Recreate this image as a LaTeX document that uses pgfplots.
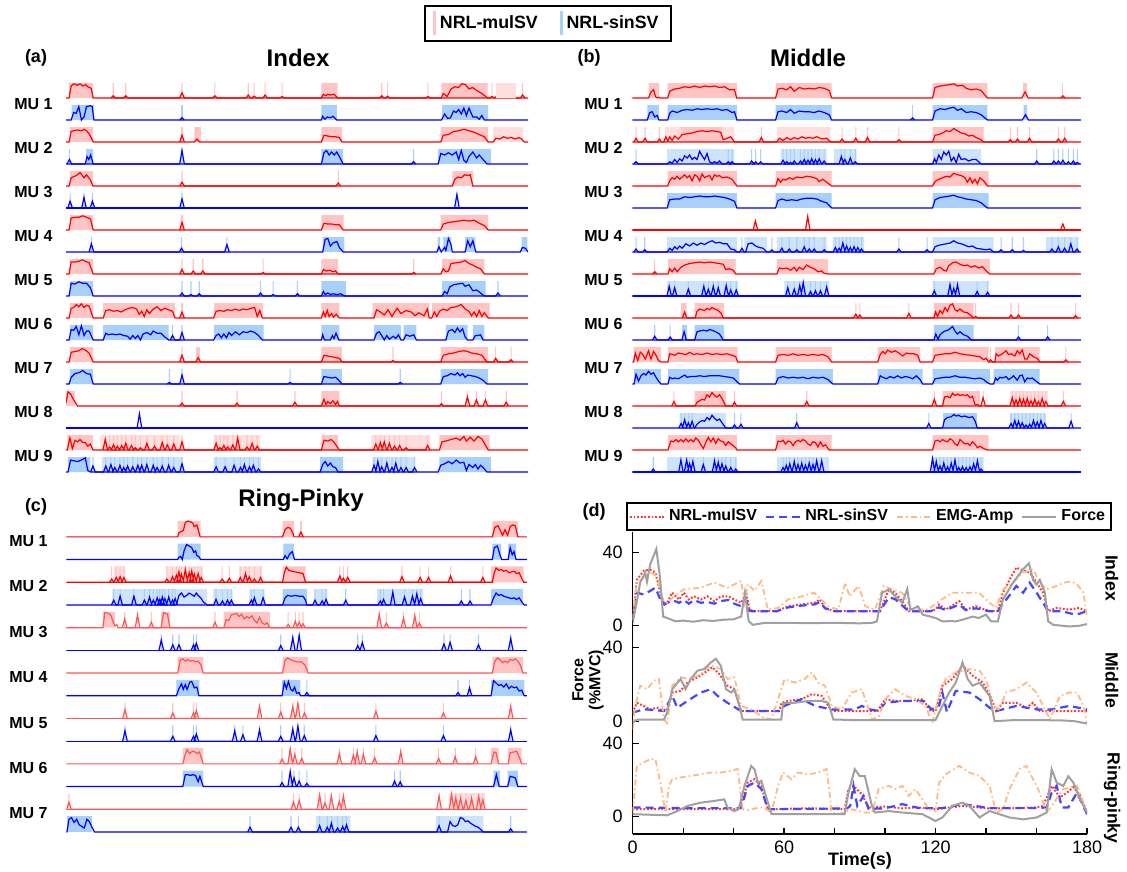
\documentclass[border=0pt]{standalone}
\usepackage{fontspec}
\setmainfont{Liberation Sans}
\usepackage{pgfplots}
\pgfplotsset{compat=1.18}
\definecolor{pk}{RGB}{255,196,196}
\definecolor{pk2}{RGB}{255,222,222}
\definecolor{lb}{RGB}{168,208,250}
\definecolor{lb2}{RGB}{205,228,252}
\definecolor{rr}{RGB}{255,0,0}
\definecolor{rl}{RGB}{255,85,85}
\definecolor{bb}{RGB}{0,0,255}
\pgfplotsset{R/.style={draw=rr,line width=0.6pt},B/.style={draw=bb,line width=0.6pt},RL/.style={draw=rl,line width=0.6pt},
 mul/.style={draw={rgb,255:red,255;green,55;blue,55},line width=1pt,dash pattern=on 0.9pt off 0.9pt},
 sin/.style={draw={rgb,255:red,70;green,70;blue,255},line width=1.1pt,dash pattern=on 4pt off 2.5pt},
 emg/.style={draw={rgb,255:red,255;green,185;blue,130},line width=0.9pt,dash pattern=on 3pt off 1.5pt on 0.8pt off 1.5pt},
 frc/.style={draw={rgb,255:red,160;green,160;blue,160},line width=1pt}}
\newcommand\fs[1]{\fontsize{#1}{#1}\selectfont}
\def\amp{0.68}
% bands a/b
\newcommand\SH[3]{\pgfmathsetmacro\yo{-#2}\pgfmathsetmacro\yi{\amp-#2}\gdef\bc{}%
 \foreach \a/\b in {#3}{\xdef\bc{\bc(\a,\yo)(\a,\yi)(\b,\yi)(\b,\yo)}}%
 \edef\tmp{\noexpand\addplot[fill=#1,draw=none] coordinates {\bc};}\tmp}
% peaks t/h with light spikes
\newcommand\PKS[4]{\pgfmathsetmacro\yo{-#3}\pgfmathsetmacro\yi{\amp-#3}\gdef\bc{}\gdef\bd{}%
 \foreach \a/\b in {#4}{\pgfmathsetmacro\l{\a-0.9}\pgfmathsetmacro\r{\a+0.9}\pgfmathsetmacro\ll{\a-0.22}\pgfmathsetmacro\rr{\a+0.22}\pgfmathsetmacro\yy{\amp*\b-#3}%
 \xdef\bc{\bc(\l,\yo)(\a,\yy)(\r,\yo)}\xdef\bd{\bd(\ll,\yo)(\ll,\yi)(\rr,\yi)(\rr,\yo)}}%
 \edef\tmp{\noexpand\addplot[fill=#2,draw=none] coordinates {\bd};\noexpand\addplot[#1] coordinates {\bc};}\tmp}
% line t/h
\newcommand\LN[3]{\gdef\bc{}\foreach \a/\b in {#3}{\pgfmathsetmacro\yy{\amp*\b-#2}\xdef\bc{\bc(\a,\yy)}}%
 \edef\tmp{\noexpand\addplot[#1] coordinates {\bc};}\tmp}
% force panel line t/v with offset
\newcommand\FL[3]{\gdef\bc{}\foreach \a/\b in {#3}{\pgfmathsetmacro\yy{\b+#2}\xdef\bc{\bc(\a,\yy)}}%
 \edef\tmp{\noexpand\addplot[#1] coordinates {\bc};}\tmp}
\begin{document}
\begin{tikzpicture}
\path[use as bounding box] (0pt,0pt) rectangle (563.5pt,-435.5pt);
%================ (a) Index
\def\amp{0.68}
\begin{axis}[at={(33pt,-238.2pt)},anchor=south west,x=1.28333pt,y=11pt,xmin=0,xmax=180,ymin=-17.2,ymax=0.8,hide axis,
 legend style={at={(axis description cs:1.043,1.1437)},anchor=center,draw=black,line width=0.9pt,font=\bfseries\fs{8.9},legend columns=2,inner xsep=4pt,inner ysep=2pt,/tikz/every even column/.append style={column sep=9pt}},
 legend image code/.code={\draw[#1,line width=1.4pt] (0.25em,-0.6em)--(0.25em,0.6em);}]
\addlegendimage{draw=pk}\addlegendentry{NRL-mulSV}
\addlegendimage{draw=lb}\addlegendentry{NRL-sinSV}
% MU1
\SH{pk}{0}{1.2/10.6, 99.5/105.8, 146.2/164.3}
\PKS{R}{pk}{0}{18.4/0.15, 23.3/0.15, 45.2/0.35, 58/0.15, 71/0.2, 73.3/0.12, 77.6/0.2, 84.2/0.1, 123/0.15, 125.3/0.12, 141/0.1, 166/0.1, 177.9/0.2}
\LN{R}{0}{0/0, 1.2/0, 2/0.8, 3/0.95, 4.5/0.85, 5.5/0.95, 6.5/0.8, 7.6/0.9, 8.5/0.75, 9.8/0.65, 10.6/0, 99.5/0, 100.3/0.25, 101.2/0.15, 102/0.25, 103/0.2, 104.5/0.25, 105.8/0, 146.2/0, 147/0.3, 148.5/0.1, 150/0.6, 151.5/0.75, 152.9/0.7, 154.3/0.95, 155.6/0.9, 157/0.6, 158.4/0.7, 160/0.5, 162/0.3, 164.3/0, 167/0, 168.5/0.25, 170.5/0.3, 172.5/0.25, 174.5/0.2, 175.5/0, 180/0}
\SH{pk2}{0}{167.5/175.5}
\SH{lb}{1}{2.2/10.9, 99.5/105.5, 146.5/164.5}
\PKS{B}{lb}{1}{45.2/0.15}
\LN{B}{1}{0/0, 2/0, 3/0.5, 4/0.45, 5/0.9, 6/0, 7/0.2, 8/0.9, 9.5/0.95, 10.2/0.9, 10.9/0, 99.5/0, 100/0.25, 100.8/0.05, 101.8/0.2, 103/0.15, 104/0.25, 105.5/0, 146.3/0, 147.5/0.4, 148.7/0.1, 149.8/0.15, 151/0.6, 152/0.5, 153/0.7, 154/0.4, 155/0.8, 156/0.3, 157/0.8, 158.5/0.2, 160/0.2, 161/0.05, 162/0.3, 163/0, 180/0}
% MU2
\SH{pk}{2}{1.5/10.6, 50/52.5, 99.5/107.5, 146/164.5}
\SH{pk2}{2}{166.5/178}
\PKS{R}{pk}{2}{45.2/0.45}
\LN{R}{2}{0/0, 1.2/0, 2/0.7, 3/0.75, 4.5/0.8, 6/0.75, 7/0.85, 8/0.75, 9/0.55, 10.6/0, 50/0, 51/0.2, 52/0, 99.5/0, 100.5/0.45, 102/0.4, 103.5/0.35, 105/0.35, 106.5/0.3, 107.5/0, 146/0, 147/0.45, 149/0.5, 151/0.7, 153/0.75, 155/0.85, 157/0.75, 159/0.65, 161/0.5, 163/0.35, 164.5/0, 166.5/0, 167.5/0.25, 169/0.2, 170.5/0.35, 172/0.25, 173.5/0.3, 175/0.2, 176.5/0.3, 177.5/0.2, 178.5/0, 180/0}
\SH{lb}{3}{7.8/10.6, 99.5/108, 145/165.5}
\PKS{B}{lb}{3}{1.3/0.3, 45.2/0.9, 135.4/0.15}
\LN{B}{3}{0/0, 7.5/0, 8.2/0.5, 8.9/0.3, 9.6/0.6, 10.6/0, 99.5/0, 100.5/0.75, 101.5/0.9, 102.5/0.6, 103.5/0.8, 104.5/0.6, 105.5/0.8, 106.5/0.5, 108/0, 145/0, 146/0.7, 147.5/0.6, 149/0.75, 150.5/0.6, 152/0.8, 153/0.3, 154/0.9, 155/0.25, 156/0.1, 157/0.5, 158.5/0.8, 160/0.4, 161/0.6, 162.5/0.3, 164/0, 180/0}
% MU3
\SH{pk}{4}{1.5/10.5, 150.5/158.5}
\PKS{R}{pk}{4}{45.2/0.25, 106.1/0.2}
\LN{R}{4}{0/0, 1.2/0, 2/0.55, 4/0.7, 5.5/0.9, 7/0.55, 8/0.75, 9.5/0.4, 10.5/0, 150.5/0, 151.5/0.45, 152.7/0.6, 154/0.55, 155.3/0.75, 156.5/0.7, 157.5/0.75, 158.5/0, 180/0}
\PKS{B}{lb}{5}{1.6/0.45, 7/0.7, 10.3/0.45, 45.2/0.6, 152.3/0.9}
\LN{B}{5}{0/0, 180/0}
% MU4
\SH{pk}{6}{1.5/10.6, 44.7/45.7, 99.5/108.2, 146/164.5}
\PKS{R}{pk}{6}{45.2/0.5}
\LN{R}{6}{0/0, 1.2/0, 2/0.8, 3.5/0.85, 5/0.85, 6.5/0.95, 8/0.85, 9.5/0.75, 10.6/0, 99.5/0, 100.5/0.45, 102/0.4, 103.5/0.4, 105/0.35, 106.5/0.35, 108/0, 146/0, 147/0.4, 149/0.5, 151/0.55, 153/0.6, 155/0.65, 157/0.6, 159/0.65, 161/0.45, 163/0.3, 164.5/0, 180/0}
\SH{lb}{7}{100/108.5, 144.8/145.8, 147/150, 155.5/159.5, 177.5/179.8}
\PKS{B}{lb}{7}{9.9/0.55, 45/0.25, 62.7/0.5}
\LN{B}{7}{0/0, 100/0, 101/0.85, 102/0.9, 103/0.4, 104/0.6, 105.5/0.7, 106.5/0.3, 108/0, 144.5/0, 145.3/0.35, 146.2/0, 147.5/0.3, 148/0.1, 149/0.9, 150/0.5, 150.5/0, 155.5/0, 156.5/0.75, 157.5/0.35, 158.5/0.75, 159.7/0, 177/0, 177.8/0.3, 179/0.25, 180/0}
% MU5
\SH{pk}{8}{1.5/10.6, 99.5/106, 146.5/163}
\PKS{R}{pk}{8}{45.2/0.3, 49.6/0.2, 53.3/0.2, 76.8/0.1, 135.5/0.1}
\LN{R}{8}{0/0, 1.2/0, 2/0.8, 3.5/0.8, 5/0.85, 6.3/0.95, 7.5/0.85, 9/0.75, 10.6/0, 99.5/0, 100.3/0.3, 101.5/0.2, 102.7/0.25, 104/0.15, 105/0.2, 106/0, 146/0, 147/0.35, 148/0.15, 149/0.2, 150/0.7, 152/0.75, 154/0.8, 155.5/0.9, 157/0.7, 158.5/0.6, 160/0.45, 161.5/0.35, 163/0, 180/0}
\SH{lb}{9}{1.5/10.6, 99.5/109, 146.5/163.5}
\PKS{B}{lb}{9}{45.2/0.2, 48.7/0.1, 51.9/0.15, 75.8/0.2, 80.7/0.1, 90.2/0.15, 168.3/0.2}
\LN{B}{9}{0/0, 1.2/0, 2/0.85, 3.5/0.8, 5/0.95, 6.5/0.85, 8/0.85, 9.5/0.55, 10.6/0, 99.5/0, 100.3/0.3, 101/0.1, 102/0.2, 103/0.1, 104/0.15, 105.5/0.1, 107/0.15, 108.5/0, 146.5/0, 147.5/0.3, 148.5/0.15, 149.5/0.6, 151/0.75, 152.5/0.8, 154.5/0.85, 155.5/0.65, 157/0.75, 158.5/0.35, 160/0.4, 161.5/0.2, 163/0, 180/0}
% MU6
\SH{pk}{10}{1.5/10.6, 14.5/42.4, 57.7/76.7, 99.5/106.5, 119.5/141.5, 142.5/165}
\PKS{R}{pk}{10}{45.2/0.4}
\LN{R}{10}{0/0, 1.2/0, 2/0.65, 3/0.7, 4/0.9, 5/0.75, 6/0.95, 7/0.7, 8/0.85, 9/0.8, 10.6/0, 14.5/0, 15.5/0.5, 17/0.55, 18.5/0.45, 20/0.5, 21.5/0.4, 23/0.55, 24.5/0.65, 26/0.7, 27.5/0.6, 28.5/0.25, 29.5/0.45, 30.5/0.1, 31.5/0.55, 32.5/0.3, 34/0.6, 35.5/0.75, 37/0.5, 38.5/0.65, 40/0.55, 41.5/0.45, 42.5/0, 57.5/0, 58.5/0.45, 60/0.5, 61.5/0.45, 63/0.55, 64.5/0.5, 66/0.6, 67.5/0.5, 69/0.6, 70.5/0.55, 72/0.65, 73.5/0.7, 74.5/0.1, 75.5/0.5, 76.5/0, 99.5/0, 100.3/0.4, 101/0.1, 101.8/0.5, 102.5/0.1, 103.5/0.3, 104.2/0.05, 105.3/0.25, 106.5/0, 120/0, 121/0.55, 122.5/0.4, 124/0.2, 125.5/0.55, 127/0.1, 129/0.65, 130.5/0.3, 132.5/0.5, 134.5/0.4, 136/0.15, 137.5/0.35, 139.5/0.15, 140.8/0.6, 141.5/0, 142.5/0, 143.5/0.4, 144.5/0.1, 145.5/0.45, 147/0.6, 148.5/0.5, 150/0.7, 152/0.75, 154/0.9, 155.5/0.6, 157/0.45, 158/0.15, 159/0.4, 160/0.1, 161/0.5, 162/0.1, 163/0.35, 164.5/0, 180/0}
\SH{lb}{11}{1.5/10.6, 14.5/40, 57.7/77, 99.5/106.5, 120/130.5, 131.5/136.5, 148/156.5, 158.5/163}
\PKS{B}{lb}{11}{41.5/0.3, 45.2/0.5}
\LN{B}{11}{0/0, 1.2/0, 2/0.7, 3/0.65, 4/0.9, 5/0.35, 6/0.95, 7/0.3, 8/0.6, 9/0.6, 10.6/0, 14.5/0, 15.5/0.45, 16.5/0.35, 18/0.4, 19.5/0.35, 21/0.4, 22.5/0.3, 24/0.25, 25/0.05, 26/0.3, 27/0.1, 28/0.3, 29/0, 30/0.4, 31.5/0.5, 33/0.35, 34/0.6, 35.5/0.45, 37/0.45, 38.5/0.2, 40/0, 57.5/0, 58.5/0.3, 59.5/0.4, 60.5/0.15, 61.5/0.4, 62.5/0.15, 63.5/0.5, 64.5/0.3, 66/0.55, 67.5/0.35, 69/0.55, 70.5/0.5, 72/0.6, 73.5/0.5, 75/0.3, 76.5/0, 99.5/0, 100/0.35, 100.7/0, 103/0, 103.8/0.3, 104.4/0.1, 105.2/0.45, 106.3/0, 120/0, 121/0.45, 122/0.55, 123/0.3, 124/0, 125/0.3, 126/0.05, 127.5/0.25, 128.5/0.1, 129.5/0.35, 130.5/0, 131.5/0, 132.5/0.35, 134/0.25, 135.5/0.35, 136.5/0, 148/0, 149/0.6, 150.5/0.7, 151.5/0.5, 152.5/0.8, 153.5/0.55, 154.5/0.75, 155.5/0.2, 156.5/0, 158.5/0, 159.5/0.3, 160.5/0.3, 161.5/0.35, 162.5/0, 180/0}
% MU7
\SH{pk}{12}{1.5/10.6, 50.7/52.2, 99.5/107.5, 146/164.5}
\PKS{R}{pk}{12}{45.2/0.45, 127.4/0.1, 167.4/0.25, 173.4/0.15}
\LN{R}{12}{0/0, 1.2/0, 2/0.65, 3.5/0.7, 5/0.75, 6.3/0.9, 7.5/0.8, 9/0.6, 10.6/0, 50.6/0, 51.5/0.3, 52.4/0, 99.5/0, 100.5/0.45, 102/0.4, 103.5/0.35, 105/0.3, 106.5/0.25, 107.5/0, 146/0, 147/0.45, 149/0.55, 151/0.6, 153/0.7, 155/0.75, 156.5/0.7, 158/0.6, 160/0.55, 162/0.45, 164/0, 180/0}
\SH{lb}{13}{1.5/10.6, 99.5/107.5, 146/164.5}
\PKS{B}{lb}{13}{40.3/0.1, 45.2/0.6, 87.3/0.1, 130.2/0.1}
\LN{B}{13}{0/0, 1.2/0, 2/0.45, 3.5/0.7, 5/0.75, 6.5/0.9, 8/0.7, 9.5/0.65, 10.6/0, 99.5/0, 100.5/0.5, 102/0.45, 103.5/0.4, 105/0.45, 106/0.3, 107.5/0, 146/0, 147/0.5, 148.5/0.55, 150/0.7, 151.5/0.6, 152.5/0.75, 153.5/0.55, 154.5/0.7, 155.5/0.45, 156.5/0.6, 158/0.55, 159.5/0.5, 161/0.4, 162.5/0.25, 164/0, 180/0}
% MU8
\SH{pk}{14}{0/3.5, 99.5/106.5}
\PKS{R}{pk}{14}{45.2/0.2, 66.6/0.2, 89.2/0.25, 146.3/0.15, 156.4/0.6, 159.9/0.4, 163.4/0.4, 171.5/0.25}
\LN{R}{14}{0/0.2, 0.8/0.95, 1.8/0.8, 3/0.4, 4.5/0, 99.5/0, 100.5/0.45, 101.3/0.1, 102/0.3, 103/0.15, 104/0.35, 105/0.1, 105.8/0.3, 106.5/0, 180/0}
\PKS{B}{none}{15}{28.6/0.95}
\LN{B}{15}{0/0, 180/0}
% MU9
\SH{pk2}{16}{13.5/44.5, 57.5/75.5, 119/142}
\SH{pk}{16}{0.5/10.6, 99.5/106, 145.5/165}
\PKS{R}{pk}{16}{15.3/0.7, 17/0.2, 18.5/0.35, 20/0.25, 21.7/0.3, 23.3/0.45, 25.5/0.3, 27/0.15, 29/0.15, 31.5/0.45, 34.5/0.25, 37.5/0.5, 39.5/0.35, 42/0.4, 45.2/0.55, 58.5/0.45, 60/0.15, 61.5/0.3, 63/0.2, 65/0.35, 66.9/0.8, 70.5/0.2, 72.5/0.45, 74.5/0.25, 120.7/0.4, 122.5/0.5, 124/0.55, 126/0.45, 128/0.25, 130/0.3, 132.5/0.15, 140.9/0.3}
\LN{R}{16}{0/0, 0.5/0, 1.5/0.8, 2.5/0.1, 3.5/0.65, 4.5/0.55, 5.5/0.7, 6.5/0.5, 7.5/0.5, 8.5/0.25, 9.5/0.4, 10.5/0, 99.5/0, 100.5/0.65, 102/0.6, 103.3/0.7, 104.5/0.5, 105.5/0.25, 106.5/0, 145.5/0, 146.5/0.55, 148/0.6, 150/0.7, 152/0.8, 153.5/0.65, 155/0.9, 156/0.6, 157.5/0.85, 159/0.6, 160.5/0.9, 162/0.75, 163.5/0.3, 164.5/0, 180/0}
\SH{lb2}{17}{14/45.5, 57.5/76, 119.5/136}
\SH{lb}{17}{0.8/9.5, 99/108, 145.5/165.5}
\PKS{B}{lb}{17}{10.5/0.4, 15.5/0.4, 17.5/0.5, 19/0.3, 21/0.45, 22.5/0.3, 24/0.4, 26/0.35, 28/0.45, 29.5/0.45, 31.5/0.5, 34/0.45, 35.5/0.3, 37.5/0.4, 40/0.45, 42/0.3, 45.2/0.55, 58.5/0.35, 62/0.35, 65.5/0.45, 68/0.3, 69.5/0.5, 71.5/0.35, 73/0.45, 75/0.2, 120/0.45, 121.5/0.7, 123/0.35, 125/0.6, 127/0.3, 128.5/0.6, 130.5/0.3, 132.5/0.3, 135.8/0.3}
\LN{B}{17}{0/0, 0.8/0, 1.8/0.8, 3/0.75, 4.5/0.7, 6/0.8, 7.5/0.95, 8.5/0.1, 9.5/0, 99/0, 100/0.5, 101/0.7, 102/0.4, 103/0.6, 104/0.35, 105/0.3, 106/0, 145/0, 146/0.45, 147.5/0.55, 149/0.7, 150.5/0.55, 152/0.8, 153.5/0.6, 155/0.65, 156/0.1, 157/0.5, 158.5/0.3, 159.5/0.5, 160.5/0.2, 161.5/0.45, 162.5/0.3, 164/0, 180/0}
\end{axis}
%================ (b) Middle
\begin{axis}[at={(316.15pt,-238.2pt)},anchor=south west,x=1.2458pt,y=11pt,xmin=0,xmax=180,ymin=-17.2,ymax=0.8,hide axis]
% MU1
\SH{pk}{0}{6.5/10.7, 14.2/42, 57.5/80, 120.5/142.5, 156.8/158.4}
\PKS{R}{pk}{0}{172.8/0.15}
\LN{R}{0}{0/0, 6.5/0, 7.5/0.4, 8.5/0.55, 9.3/0.1, 10/0, 10.7/0.05, 11.2/0, 14.2/0, 15/0.45, 17/0.6, 19/0.65, 21/0.75, 23/0.7, 25/0.8, 27/0.7, 29/0.8, 31/0.75, 33/0.8, 35/0.7, 37/0.75, 39/0.55, 41/0.55, 41.9/0, 57.5/0, 58.5/0.6, 60/0.65, 62/0.55, 63.5/0.75, 65/0.45, 67/0.7, 69/0.6, 71/0.65, 73/0.6, 75/0.7, 77/0.65, 79/0.5, 80/0, 120.5/0, 121.5/0.7, 123.5/0.8, 125.5/0.85, 127.5/0.9, 129/0.95, 130.5/0.8, 132.5/0.85, 134/0.65, 136/0.55, 138/0.6, 140/0.5, 142.5/0, 156.3/0, 157.6/0.4, 158.9/0, 180/0}
\SH{lb}{1}{6/10.7, 14.2/42, 57.5/80, 120.5/142.5, 157/158.5}
\PKS{B}{lb}{1}{112.5/0.15}
\LN{B}{1}{0/0, 6/0, 7/0.5, 8/0.55, 9/0.2, 10/0.3, 10.7/0, 14.2/0, 15/0.45, 16/0.6, 18/0.5, 20/0.65, 22/0.7, 24/0.65, 26/0.75, 28/0.7, 30/0.75, 32/0.7, 34/0.75, 36/0.65, 38/0.7, 40/0.5, 41/0.55, 42/0, 57.5/0, 58.5/0.55, 60/0.6, 62/0.5, 63.5/0.7, 65/0.45, 67/0.6, 69/0.55, 71/0.55, 73/0.5, 75/0.6, 77/0.5, 79/0.35, 80/0, 120.5/0, 121.5/0.6, 123.5/0.75, 125.5/0.7, 127.5/0.8, 129/0.85, 130.5/0.65, 132/0.75, 134/0.5, 136/0.55, 138/0.5, 140/0.35, 142.5/0, 156.5/0, 157.8/0.35, 159/0, 180/0}
% MU2
\SH{pk2}{2}{14/41, 58/79.5}
\SH{pk}{2}{19.5/36, 120.5/141}
\PKS{R}{pk}{2}{1.5/0.25, 5.1/0.25, 10.9/0.2, 13.5/0.35, 51.8/0.3, 84.2/0.2, 89.7/0.25, 94.4/0.3, 107/0.15, 151.7/0.15, 154.6/0.2, 159.4/0.25, 171/0.2, 173.5/0.25}
\LN{R}{2}{0/0, 14/0, 15/0.35, 16/0.1, 17/0.4, 18.5/0.2, 20/0.5, 22/0.55, 24/0.6, 26/0.7, 28/0.75, 30/0.7, 32/0.75, 34/0.7, 35.5/0.65, 36.5/0.15, 38/0.25, 39.5/0.35, 41/0, 58/0, 59/0.25, 60.5/0.1, 62/0.3, 63.5/0.15, 65/0.3, 66.5/0.2, 68/0.35, 69.5/0.25, 71/0.3, 72.5/0.25, 74/0.35, 76/0.2, 78/0.25, 79.5/0, 120.5/0, 121.5/0.45, 123/0.5, 124.5/0.6, 126/0.75, 127.5/0.7, 129/0.9, 130.5/0.75, 132/0.6, 133.5/0.55, 135/0.4, 136.5/0.45, 138/0.3, 140/0.15, 141/0, 180/0}
\SH{lb2}{3}{14/41, 59.5/78, 81/90, 120.5/140}
\PKS{B}{lb}{3}{1.5/0.15, 38.5/0.15, 40/0.15, 47.9/0.2, 49.5/0.15, 51.5/0.15, 60.5/0.25, 62/0.15, 63.5/0.1, 65/0.2, 67.5/0.2, 69/0.3, 70.5/0.25, 72/0.35, 73.5/0.3, 75/0.35, 77/0.2, 83.9/0.5, 85.3/0.3, 87.5/0.4, 89.5/0.15, 162.3/0.2, 169.2/0.2, 171/0.2, 172.8/0.25, 175/0.15, 177/0.2, 178.6/0.1}
\LN{B}{3}{0/0, 14/0, 15/0.15, 16/0.05, 17/0.3, 18/0.1, 19/0.35, 20/0.2, 21/0.55, 22/0.4, 23/0.6, 24/0.3, 25/0.45, 26/0.3, 27/0.85, 28/0.55, 29/0.3, 30/0.7, 31/0.15, 32/0.05, 33/0.15, 34/0.05, 35/0.2, 36/0, 120.5/0, 121.3/0.35, 122/0.1, 123/0.6, 124/0.3, 125/0.8, 126/0.6, 127/0.85, 128/0.2, 129/0.45, 130/0.1, 131/0.65, 132/0.3, 133.5/0.35, 135/0.2, 136.5/0.3, 138/0.3, 140/0, 180/0}
% MU3
\SH{pk}{4}{14.2/42, 57.5/80, 120.5/143}
\LN{R}{4}{0/0, 14.2/0, 15/0.35, 16/0.55, 17/0.45, 18/0.65, 19/0.45, 20/0.6, 21/0.75, 22/0.55, 23/0.7, 24/0.35, 25/0.75, 26/0.65, 27/0.35, 28/0.8, 29/0.55, 30/0.65, 31/0.7, 32/0.4, 33/0.75, 34/0.65, 35/0.7, 36/0.55, 38/0.6, 40/0.45, 42/0, 57.5/0, 58.5/0.5, 59.5/0.25, 60.5/0.45, 61.5/0.4, 63/0.55, 64.5/0.45, 66/0.6, 68/0.55, 70/0.65, 72/0.6, 74/0.5, 75/0.3, 76.5/0.45, 78/0.25, 80/0, 120.5/0, 121.5/0.3, 123/0.45, 124.5/0.55, 126/0.65, 127.5/0.6, 129/0.85, 130.5/0.75, 132/0.7, 133.5/0.55, 134.5/0.25, 135.5/0.55, 136.5/0.2, 137.5/0.45, 138.5/0.15, 139.5/0.55, 141/0.35, 142.5/0, 180/0}
\SH{lb}{5}{14/42, 57.5/80, 120.5/143}
\LN{B}{5}{0/0, 14/0, 15/0.55, 17/0.6, 19/0.6, 21/0.75, 23/0.7, 25/0.75, 27/0.8, 29/0.75, 31/0.75, 33/0.8, 35/0.75, 37/0.7, 39/0.6, 41/0.45, 42/0, 57.5/0, 58.5/0.5, 60/0.6, 62/0.5, 64/0.55, 66/0.5, 68/0.6, 70/0.65, 72/0.65, 74/0.6, 76/0.45, 78/0.35, 80/0, 120.5/0, 121.5/0.55, 123.5/0.7, 125.5/0.75, 127.5/0.8, 129/0.85, 130.5/0.75, 132/0.7, 134/0.6, 136/0.55, 138/0.5, 140/0.35, 142.5/0, 180/0}
% MU4
\PKS{R}{none}{6}{49.4/0.6, 70.4/0.9, 172.8/0.4}
\LN{R}{6}{0/0, 180/0}
\SH{lb2}{7}{14/42, 45/54, 58/78, 80.5/93, 120.5/145, 166/179}
\PKS{B}{lb}{7}{1.5/0.2, 5/0.15, 44/0.25, 56/0.15, 60/0.25, 63/0.2, 66/0.15, 69/0.35, 71/0.2, 73/0.2, 77/0.15, 81.5/0.3, 83/0.25, 84.5/0.6, 86/0.4, 87.5/0.3, 89/0.35, 90.5/0.3, 92/0.2, 107/0.2, 118.3/0.15, 148/0.15, 152.5/0.15, 157/0.1, 168.4/0.2, 171/0.35, 173.5/0.25, 176/0.55, 178.5/0.2}
\LN{B}{7}{0/0, 14/0, 15/0.25, 16/0.1, 17/0.35, 18/0.2, 19/0.4, 20/0.25, 21.5/0.55, 23/0.4, 24.5/0.6, 26/0.45, 27.5/0.6, 29/0.5, 30.5/0.65, 32/0.75, 33.5/0.6, 35/0.65, 36.5/0.55, 38/0.55, 39.5/0.2, 41/0.15, 42/0, 45.5/0, 46.5/0.55, 48/0.6, 49.5/0.4, 51/0.3, 52.5/0.25, 54/0, 120.5/0, 121.5/0.35, 123/0.45, 124.5/0.5, 126/0.55, 127.5/0.6, 129/0.75, 130.5/0.6, 132/0.55, 133.5/0.45, 135/0.35, 136.5/0.4, 138/0.25, 140/0.2, 142/0.15, 143.5/0.2, 145/0, 180/0}
% MU5
\SH{pk}{8}{14.3/41.5, 58/78.5, 121/143.5}
\PKS{R}{pk}{8}{9/0.15}
\LN{R}{8}{0/0, 14.3/0, 15/0.35, 16/0.15, 17/0.4, 18/0.15, 19.5/0.45, 21/0.6, 23/0.7, 25/0.75, 27/0.8, 29/0.75, 31/0.8, 33/0.75, 35/0.7, 36.5/0.65, 37.5/0.3, 39/0.35, 40.5/0.25, 41.5/0, 58/0, 59/0.4, 60.5/0.35, 62/0.4, 63.5/0.25, 65/0.45, 66/0.2, 67/0.45, 68.5/0.3, 70/0.6, 71.5/0.45, 73/0.35, 74.5/0.15, 76/0.2, 77/0.05, 78.5/0, 121/0, 122/0.35, 123.5/0.45, 125/0.25, 126/0.2, 127/0.55, 128.5/0.75, 130/0.8, 131.5/0.65, 133/0.55, 134.5/0.6, 136/0.45, 137.5/0.55, 139/0.4, 140.5/0.5, 142/0.2, 143.5/0, 180/0}
\SH{lb2}{9}{14/42.5, 61/79, 120.5/143}
\PKS{B}{lb}{9}{14.8/0.65, 17/0.55, 22.5/0.45, 28.7/0.65, 30.5/0.45, 32.5/0.65, 34.5/0.55, 37.7/0.7, 39.5/0.4, 41.7/0.4, 62.4/0.55, 65/0.45, 67.2/0.7, 68.6/0.9, 71.5/0.3, 73.5/0.35, 75.5/0.35, 78/0.6, 121.2/0.35, 127.5/0.75, 129/0.5, 130.5/0.75, 138.4/0.3, 142.6/0.25}
\LN{B}{9}{0/0, 180/0}
% MU6
\SH{pk}{10}{19.5/21.8, 25/36.8, 121/137}
\PKS{R}{pk}{10}{21/0.4, 89.7/0.25, 91.3/0.2, 111/0.3, 137.8/0.1, 152/0.2, 155/0.2, 177.9/0.15}
\LN{R}{10}{0/0, 25.2/0, 26/0.45, 27/0.6, 28/0.55, 29/0.5, 30/0.65, 31/0.55, 32/0.7, 33/0.6, 34/0.55, 35.5/0.35, 36.5/0, 121/0, 121.7/0.4, 122.5/0.1, 123.5/0.5, 124.5/0.3, 125.5/0.7, 126.5/0.45, 127.5/0.85, 128.5/0.95, 129.5/0.55, 130.5/0.45, 131.5/0.6, 133/0.4, 134.5/0.35, 136/0.15, 137/0, 180/0}
\SH{lb}{11}{20/22, 25/36.8, 121/137}
\PKS{B}{lb}{11}{9/0.25, 15.2/0.2, 20.8/0.55, 155/0.2, 166.7/0.2}
\LN{B}{11}{0/0, 25/0, 26/0.55, 27/0.6, 28.5/0.65, 30/0.6, 31/0.7, 32/0.65, 33.5/0.55, 35/0.4, 36.5/0, 121/0, 121.8/0.4, 122.7/0.05, 123.5/0.35, 124.5/0.5, 125.5/0.6, 126.5/0.65, 127.5/0.75, 128.5/0.9, 129.5/0.6, 130.5/0.4, 131.5/0.55, 133/0.35, 134.5/0.25, 136/0, 180/0}
% MU7
\SH{pk}{12}{0.5/11.5, 14.3/42.3, 57.5/80, 98.5/115.5, 120.5/143, 145.5/163.5}
\PKS{R}{pk}{12}{143.8/0.15, 174/0.15}
\LN{R}{12}{0/0, 0.5/0, 1.2/0.6, 2.2/0.1, 3.2/0.65, 4.2/0.5, 5.2/0.2, 6.5/0.75, 7.5/0.2, 8.5/0.7, 9.5/0.45, 10.5/0.1, 11.5/0, 14.3/0, 15/0.55, 16/0.5, 17/0.45, 18.5/0.6, 20/0.55, 21.5/0.5, 23/0.65, 24.5/0.5, 26/0.55, 28/0.5, 30/0.6, 32/0.5, 34/0.55, 36/0.5, 38/0.55, 40/0.45, 41.5/0.35, 42.3/0, 57.5/0, 58.5/0.45, 60.5/0.5, 62.5/0.45, 64.5/0.55, 66.5/0.45, 68.5/0.5, 70.5/0.45, 72.5/0.5, 74.5/0.45, 76.5/0.5, 78.5/0.35, 80/0, 98.5/0, 99.5/0.5, 100.5/0.7, 101.5/0.55, 102.5/0.8, 104/0.65, 105.5/0.75, 107/0.6, 108.5/0.4, 110/0.6, 111.5/0.55, 113/0.55, 114.5/0.45, 115.5/0, 120.5/0, 121.5/0.45, 123.5/0.5, 125.5/0.55, 127.5/0.55, 129.5/0.65, 131.5/0.55, 133.5/0.5, 135.5/0.45, 137.5/0.4, 139.5/0.35, 141/0.15, 142/0.25, 143/0, 145.5/0, 146/0.55, 147/0.4, 148.5/0.55, 150/0.75, 151/0.5, 152/0.55, 153.5/0.4, 154.5/0.75, 155.5/0.55, 156.5/0.8, 157.5/0.2, 158.5/0.2, 159.5/0.55, 161/0.35, 162.5/0.25, 163.5/0, 180/0}
\SH{lb}{13}{0.7/11.5, 14.3/43, 57.5/80.5, 98.5/116.5, 120.5/143.5, 145/163.5}
\LN{B}{13}{0/0, 0.7/0, 1.5/0.65, 2.5/0.2, 3.5/0.55, 4.5/0.7, 5.5/0.6, 6.5/0.85, 7.5/0.65, 8.5/0.75, 9.5/0.45, 10.5/0.2, 11.5/0, 14.3/0, 15/0.45, 16/0.35, 17/0.4, 18.5/0.35, 20/0.5, 21/0.6, 22/0.45, 23.5/0.5, 25/0.5, 27/0.55, 29/0.5, 31/0.55, 33/0.55, 35/0.55, 37/0.5, 39/0.45, 40.5/0.4, 42/0.15, 43/0, 57.5/0, 58.5/0.4, 60.5/0.5, 62.5/0.4, 64.5/0.45, 66.5/0.4, 68.5/0.45, 70.5/0.35, 72.5/0.45, 74.5/0.4, 76.5/0.45, 78.5/0.3, 80.5/0, 98.5/0, 99.5/0.55, 100.5/0.45, 102/0.35, 103.5/0.5, 105/0.4, 106.5/0.55, 108/0.4, 109.5/0.5, 111/0.45, 112.5/0.35, 114/0.55, 115.5/0.3, 116.5/0, 120.5/0, 121.5/0.35, 123.5/0.4, 125.5/0.45, 127.5/0.45, 129.5/0.55, 131.5/0.45, 133.5/0.45, 135.5/0.4, 137.5/0.35, 139.5/0.4, 141/0.3, 142/0.15, 143.5/0, 145/0, 145.8/0.4, 146.5/0.25, 147.5/0.45, 148.5/0.4, 150/0.5, 151/0.3, 152/0.4, 153/0.55, 154.5/0.25, 155.5/0.55, 156.5/0.6, 157.5/0.15, 158.5/0.4, 159.5/0.35, 160.5/0.4, 162/0.2, 163.5/0, 180/0}
% MU8
\SH{pk2}{14}{151.5/167}
\SH{pk}{14}{25/37.5, 124.5/139.5}
\PKS{R}{pk}{14}{16.7/0.3, 41/0.25, 70/0.3, 121.2/0.45, 140.8/0.55, 152.5/0.55, 154/0.4, 155.5/0.5, 157/0.45, 158.5/0.5, 160/0.35, 161.5/0.45, 163/0.3, 164.5/0.5, 166/0.3, 173/0.3}
\LN{R}{14}{0/0, 25.2/0, 26/0.25, 27/0.35, 28/0.45, 29/0.4, 30/0.75, 31/0.6, 32/0.9, 33/0.7, 34/0.6, 35/0.75, 36/0.5, 37.5/0, 124.5/0, 125.3/0.6, 126.5/0.65, 127.5/0.55, 128.5/0.85, 129.5/0.7, 130.5/0.8, 131.5/0.7, 132.5/0.75, 133.5/0.7, 134.5/0.75, 135.5/0.55, 136.5/0.65, 137.5/0.1, 138.5/0.1, 139.5/0, 180/0}
\SH{lb2}{15}{19/37.5, 151.5/166}
\SH{lb}{15}{124.5/138.5}
\PKS{B}{lb}{15}{19.6/0.3, 21/0.55, 22.5/0.35, 24/0.45, 41/0.2, 43.6/0.25, 66/0.35, 119/0.3, 152/0.3, 153.5/0.5, 155/0.45, 156.5/0.35, 158/0.2, 159.5/0.25, 161/0.5, 162.5/0.4, 164/0.5, 165.5/0.3, 176.1/0.45}
\LN{B}{15}{0/0, 25/0, 26/0.25, 27/0.4, 28/0.5, 29/0.45, 30/0.7, 31/0.55, 32/0.85, 33/0.65, 34/0.5, 35/0.6, 36/0.35, 37.5/0, 124.5/0, 125.3/0.55, 126.5/0.7, 128/0.75, 129/0.9, 130/0.8, 131/0.85, 132/0.75, 133.5/0.8, 135/0.7, 136.5/0.75, 137.5/0.5, 138.5/0, 180/0}
% MU9
\SH{pk}{16}{14.3/42, 57.5/80, 120.5/143}
\LN{R}{16}{0/0, 14.3/0, 15.5/0.6, 16.5/0.55, 17.5/0.7, 18.5/0.55, 19.5/0.7, 20.5/0.55, 21.5/0.75, 22.5/0.55, 23.5/0.7, 24.5/0.55, 25.5/0.8, 26.5/0.65, 27.5/0.35, 28.5/0.1, 29.5/0.5, 30.5/0.85, 31.5/0.55, 32.5/0.8, 33.5/0.45, 34.5/0.75, 35.5/0.6, 36.5/0.55, 37.5/0.3, 38.5/0.55, 40/0.35, 41.5/0.15, 42/0, 57.5/0, 58.5/0.6, 59.5/0.55, 60.5/0.65, 61.5/0.4, 62.5/0.6, 63.5/0.55, 64.5/0.3, 65.5/0.55, 66.5/0.65, 67.5/0.55, 68.5/0.7, 69.5/0.6, 70.5/0.4, 71.5/0.3, 72.5/0.55, 73.5/0.5, 74.5/0.2, 75.5/0.55, 76.5/0.25, 77.5/0.35, 79/0, 120.5/0, 121.5/0.6, 122.5/0.65, 123.5/0.55, 124.5/0.7, 125.5/0.6, 126.5/0.55, 127.5/0.75, 128.5/0.65, 129.5/0.4, 130.5/0.3, 131.5/0.7, 132.5/0.55, 133.5/0.4, 134.5/0.45, 135.5/0.3, 136.5/0.55, 137.5/0.4, 138.5/0.15, 139.5/0.25, 141/0.1, 142.5/0, 180/0}
\SH{lb2}{17}{14/42, 58/79, 120/141}
\PKS{B}{lb}{17}{8.4/0.2, 19.5/0.8, 21.8/0.8, 23/0.55, 24.3/0.7, 28.5/0.5, 33/0.75, 34.5/0.65, 36/0.55, 37.5/0.4, 39.5/0.3, 41.5/0.2, 60.5/0.3, 61.8/0.45, 63.2/0.55, 65/0.7, 66.5/0.5, 68/0.6, 69.5/0.45, 71/0.6, 72.5/0.5, 74/0.75, 76/0.75, 120.5/0.9, 122/0.7, 123.5/0.4, 125/0.6, 126.5/0.35, 128/0.6, 129.5/0.8, 131/0.3, 132.5/0.35, 134/0.3, 135.5/0.35, 137/0.55, 138.5/0.75, 140/0.2}
\LN{B}{17}{0/0, 180/0}
\end{axis}
%================ (c) Ring-Pinky
\def\amp{0.7}
\begin{axis}[at={(33.2pt,-418.25pt)},anchor=south west,x=1.2789pt,y=11.35pt,xmin=0,xmax=180,ymin=-13.2,ymax=0.8,hide axis]
% MU1
\SH{pk}{0}{43.5/52.5, 84.5/89, 166.5/176.5}
\PKS{R}{pk}{0}{91.7/0.3}
\LN{R}{0}{0/0, 43.5/0, 44/0.25, 45/0.35, 45.7/0.4, 46.5/0.9, 47.5/1, 48.5/0.95, 49.5/0.85, 50/0.65, 51/0.75, 52.3/0, 84.5/0, 85.5/0.45, 86.5/0.6, 87.5/0.55, 88.5/0.25, 89/0, 166.5/0, 167.5/0.6, 168.7/0.7, 169.5/0.45, 170.5/0.1, 171.5/0.45, 172.5/0.1, 173.5/0.65, 174.5/0.75, 175.5/0.7, 176.5/0, 180/0}
\SH{lb}{1}{43.5/52.5, 84.8/89, 166.5/170, 172.7/175.8}
\LN{B}{1}{0/0, 43.5/0, 44/0.15, 44.7/0.2, 45.3/0, 46/0.55, 47/0.95, 48/0.85, 49/0.75, 49.8/0.45, 50.5/0.55, 51/0.25, 51.7/0.2, 52.5/0, 84.8/0, 85.5/0.25, 86.3/0.05, 87.3/0.35, 88.3/0.5, 89.2/0, 166.5/0, 167.3/0.75, 168.5/0.85, 169.5/0.3, 170.2/0, 172.7/0, 173.5/0.75, 174.3/0.3, 175/0.5, 175.8/0, 180/0}
% MU2
\SH{pk2}{2}{18.5/23, 39/53.5, 67.5/76.5}
\SH{pk}{2}{84.5/93.5, 166/178.8}
\PKS{R}{pk}{2}{17.7/0.2, 19.5/0.3, 21/0.35, 22.5/0.3, 39.3/0.2, 41.5/0.35, 43/0.45, 44/0.65, 45/0.5, 46.5/0.8, 48/0.6, 49/0.7, 50/0.5, 51.5/0.55, 52.7/0.3, 60.9/0.2, 63.7/0.25, 68/0.3, 70/0.55, 71.5/0.35, 73.5/0.2, 75.9/0.3, 106.9/0.4, 108.3/0.25, 110/0.3, 131.2/0.35, 138.3/0.3, 141.6/0.3, 150.2/0.4, 162.8/0.3}
\LN{R}{2}{0/0, 84.5/0, 85.2/0.6, 86/0.95, 87/0.75, 88/0.7, 89.5/0.65, 91/0.6, 92.5/0.55, 93.5/0, 166.5/0, 167.2/0.55, 168/0.9, 169/0.75, 170/0.8, 171/0.7, 172/0.75, 173/0.6, 174/0.65, 175/0.7, 176/0.55, 177/0.6, 178/0.25, 178.8/0, 180/0}
\SH{lb2}{3}{18/55, 57.5/65, 71.5/77.5, 97/102, 121.5/139.5}
\SH{lb}{3}{84.5/94, 166/178.5}
\PKS{B}{lb}{3}{18.5/0.3, 21/0.55, 26.4/0.55, 30.5/0.3, 32.5/0.5, 34/0.3, 35.5/0.45, 36.5/0.35, 37.5/0.5, 38.5/0.4, 40/0.5, 41.5/0.3, 42.5/0.4, 58.5/0.35, 61/0.25, 63/0.3, 64.5/0.3, 72.3/0.3, 73.5/0.45, 76.9/0.45, 97.2/0.3, 100/0.25, 101.5/0.35, 109.2/0.3, 122.7/0.25, 124/0.35, 127.6/0.8, 132.2/0.5, 135.3/0.55, 137/0.7, 138.5/0.4, 154.4/0.25, 157.8/0.25}
\LN{B}{3}{0/0, 43/0, 44/0.6, 45/0.75, 46/0.5, 47/0.6, 48/0.75, 49/0.65, 50/0.55, 50.8/0.75, 51.5/0.6, 52.5/0.45, 53.5/0.2, 55/0, 84.5/0, 85.5/0.45, 86.5/0.6, 88/0.55, 89.5/0.6, 91/0.55, 92.5/0.55, 93.5/0.3, 94/0, 166/0, 167/0.45, 168/0.75, 169/0.6, 170/0.65, 171/0.55, 172/0.5, 173/0.45, 174/0.4, 175/0.45, 176/0.35, 177/0.45, 178/0.2, 179/0, 180/0}
% MU3
\SH{pk}{4}{14.3/19, 37/40.5, 61.5/79.5}
\PKS{RL}{pk}{4}{22.8/0.55, 27.8/0.8, 33.2/0.35, 58.1/0.35, 86.7/0.2, 89.5/0.4, 91/0.35, 92.5/0.25, 122.3/0.85, 125.1/0.3, 131.8/0.6, 136.2/0.75, 138/0.3}
\LN{RL}{4}{0/0, 14.3/0, 15/0.95, 16.5/0.9, 17.5/0.75, 18.3/0.35, 19/0.1, 19.7/0.2, 20.2/0, 37/0, 38/0.95, 39.5/0.85, 40.5/0, 61.5/0, 62.5/0.5, 63.5/0.45, 64.5/0.8, 65.5/0.85, 66.5/0.9, 67.5/0.7, 68.5/0.85, 69.5/0.55, 70.5/0.7, 71.5/0.6, 72.5/0.75, 73.5/0.45, 74.5/0.3, 75.5/0.65, 76.5/0.3, 77.5/0.2, 78.5/0.3, 79.5/0, 180/0}
\PKS{B}{lb}{5}{37.1/0.65, 41.6/0.35, 44/0.35, 49.7/0.35, 50.8/0.45, 83.8/0.3, 88.5/0.8, 91/0.95, 113.9/0.3, 115.7/0.5, 147.6/0.4, 150/0.5, 161.1/0.35, 173.7/0.75}
\LN{B}{5}{0/0, 180/0}
% MU4
\SH{pk}{6}{43.5/53.5, 84.5/94.5, 166.5/178.5}
\LN{RL}{6}{0/0, 43.5/0, 44.5/0.8, 45.5/0.9, 46.5/0.75, 47.5/0.85, 48.5/0.75, 49.5/0.8, 50.5/0.7, 51.5/0.75, 52.5/0.55, 53.5/0, 84.5/0, 85.5/0.8, 86.5/0.95, 87.5/0.85, 89/0.75, 90.5/0.7, 92/0.7, 93.5/0.45, 94.5/0, 166.5/0, 167.5/0.75, 168.5/0.95, 169.5/0.85, 170.5/0.65, 171.5/0.75, 172.5/0.65, 173.5/0.85, 174.5/0.8, 175.5/0.9, 176.5/0.75, 177.5/0.5, 178.5/0, 180/0}
\SH{lb}{7}{43/52, 84.3/91.5, 166/179}
\PKS{B}{lb}{7}{94/0.2, 153.1/0.2, 157.6/0.5}
\LN{B}{7}{0/0, 43/0, 44/0.45, 45/0.75, 45.7/0.4, 46.5/0.7, 47.2/0.4, 48.2/0.85, 49/0.9, 50/0.5, 51/0.55, 51.8/0, 84.3/0, 85.2/0.85, 86/0.45, 86.8/0.9, 87.7/0.4, 88.5/0.3, 89.2/0.55, 90/0.15, 91/0.2, 91.5/0, 166/0, 167/0.95, 168/0.8, 169/0.65, 170/0.7, 171/0.55, 172/0.75, 173/0.45, 174/0.6, 175/0.5, 176/0.55, 177/0.3, 178/0.35, 179/0, 180/0}
% MU5
\PKS{RL}{pk}{8}{22.9/0.55, 41.6/0.35, 49.7/0.35, 50.8/0.5, 75.5/0.75, 83.8/0.4, 88.5/0.75, 90.5/0.95, 93.1/0.35, 121/0.45, 147.4/0.35, 173.7/0.75}
\LN{RL}{8}{0/0, 180/0}
\PKS{B}{lb}{9}{22.9/0.65, 41.6/0.3, 49.7/0.3, 50.8/0.45, 65.8/0.65, 69/0.4, 75.5/0.7, 83.8/0.3, 88.5/0.75, 90.5/0.95, 93/0.35, 121/0.35, 147.4/0.35, 173.7/0.7}
\LN{B}{9}{0/0, 180/0}
% MU6
\SH{pk}{10}{45.5/53.5, 166/169, 172.7/178}
\PKS{RL}{pk}{10}{84.3/0.3, 87.5/0.95, 89.3/0.6, 92/0.35, 106.7/0.65, 112.2/0.55, 113.7/0.75, 116.1/0.6, 120.5/0.4, 130.7/0.75, 145.5/0.35, 152/0.45, 160/0.45}
\LN{RL}{10}{0/0, 45.5/0, 46.3/0.5, 47.2/0.9, 48.2/0.65, 49.2/0.8, 50.2/0.75, 51.2/0.65, 52/0.75, 53.5/0, 166/0, 167.2/0.75, 168/0.7, 169/0, 172.7/0, 173.5/0.7, 175/0.75, 176/0.8, 177/0.45, 178/0, 180/0}
\SH{lb}{11}{45.5/53.5, 167/169.5, 172.5/176.5}
\PKS{B}{lb}{11}{84.3/0.25, 87.5/0.95, 89/0.55, 91/0.35, 94/0.2, 128.3/0.35, 130.5/0.3}
\LN{B}{11}{0/0, 45.5/0, 46.5/0.75, 47.5/0.75, 48.5/0.7, 49.5/0.75, 50.5/0.7, 51.5/0.3, 52.2/0.65, 53.5/0, 167/0, 168.1/0.75, 169.2/0, 172.5/0, 173.5/0.65, 174.5/0.6, 175.5/0.55, 176.5/0, 180/0}
% MU7
\SH{pk2}{12}{149.5/163.5}
\PKS{RL}{pk}{12}{1/0.45, 88.8/0.45, 91/0.55, 99/0.9, 101.1/0.4, 103.6/0.85, 106.7/0.5, 108.3/0.85, 145.7/0.85, 150.6/0.95, 152.2/0.7, 154.1/0.7, 156.2/0.55, 158.4/0.7, 161.2/0.8, 162.8/0.6}
\LN{RL}{12}{0/0, 180/0}
\SH{lb2}{13}{97.5/111, 144.5/163}
\SH{lb}{13}{0.2/10}
\PKS{B}{lb}{13}{71.8/0.3, 87.8/0.3, 90.7/0.3, 99/0.4, 102/0.3, 103.6/0.55, 106/0.25, 108/0.35, 109.5/0.45, 145.7/0.4, 173.7/0.2}
\LN{B}{13}{0/0, 0.2/0, 1/0.8, 2/0.9, 3/0.6, 4/0.8, 5/0.45, 6/0.35, 7/0.25, 8/0.8, 9/0.65, 10/0.3, 11/0, 149/0, 150/0.65, 151/0.4, 152/0.35, 153/0.45, 154/0.9, 155/0.85, 156/0.65, 157/0.7, 158/0.55, 159/0.45, 160/0.35, 161/0.3, 162/0.15, 163/0, 180/0}
\end{axis}
%================ (d) force
\begin{axis}[at={(316.3pt,-417pt)},anchor=south west,x=1.2622pt,y=0.9175pt,xmin=0,xmax=180,ymin=-9.5,ymax=155,
 axis x line*=bottom,axis y line*=left,axis line style={line width=0.6pt,black},
 xtick={0,60,120,180},minor xtick={20,40,80,100,140,160},ytick={0,40,52,92,104,144},yticklabels={0,40,0,40,0,40},
 tick align=inside,major tick length=3pt,minor tick length=3pt,tick style={black,line width=0.6pt},
 tick label style={font=\fs{9}},/pgf/number format/assume math mode=true,yticklabel style={xshift=-1.5pt},
 legend style={at={(axis description cs:0.5202,1.0513)},anchor=center,draw=black,line width=0.9pt,font=\bfseries\fs{8},legend columns=4,inner sep=1pt,/tikz/every even column/.append style={column sep=2pt}}]
\FL{mul}{104}{0/3.3, 1.7/25, 4.4/30, 7/30.5, 9/29, 11/18, 12.6/11.6, 13.7/12.5, 15.7/18, 18.4/14.3, 20.3/18, 22.3/14.3, 24.3/16, 27/14.3, 29.7/16, 32.3/13.4, 35/16, 38/16, 40.3/14.3, 43/12.5, 45/18, 46.3/8.8, 48/7.9, 57/7.9, 61.6/10.6, 67/11.6, 72/12.5, 74.2/14.3, 76.2/9.7, 80/7.9, 98/7.9, 101.5/20, 104/18, 106.8/13.4, 109.4/7.9, 118/7.9, 120/8.8, 121.4/11.6, 124/8.8, 129.4/13.4, 132/8.8, 136/10.6, 141.4/7.9, 144.7/7.9, 146.7/18, 148.7/23.5, 152/31.7, 154.7/30, 157.3/29, 160/23.5, 162.6/18, 164.6/7.9, 168/9.7, 173/8.8, 177/9.7, 180/7.9}
\addlegendentry{NRL-mulSV}
\FL{sin}{104}{0/3.3, 1.7/18, 4.4/17, 7/19, 9/20.7, 11/14.3, 12.6/11.6, 15.7/14, 18.4/12.5, 20.3/14, 22.3/12, 24.3/14, 27/12.5, 29.7/13, 32.3/12, 35/13.5, 38/14, 40.3/12, 43/10.6, 45/14, 46.3/8, 48/7.9, 57/7.9, 61.6/10, 67/11, 72/11.6, 74.2/13, 76.2/9.5, 80/7.9, 98/7.9, 101.5/15.5, 104/14.5, 106.8/11, 109.4/7.9, 118/7.9, 121.4/10, 124/8.5, 129.4/11.5, 132/8.5, 136/9.5, 141.4/7.9, 144.7/7.9, 146.7/12, 149/16, 152/21.7, 154.7/18, 157.3/23.5, 160/18, 162.6/12.5, 164.6/7.9, 170/7.9, 175.6/6, 180/7.9}
\addlegendentry{NRL-sinSV}
\FL{emg}{104}{0/3.3, 1.7/23.5, 7/29, 9.7/27, 11.7/14.3, 13.7/12.5, 16.4/16, 20.3/19.8, 27/20.7, 32.3/23.5, 37.6/20.7, 43/24.4, 44.3/12.5, 45.6/22.6, 48.3/19, 51/24.4, 53.6/8.8, 57.6/9.7, 61.6/14.3, 67/16, 72/18, 77.5/10.6, 81.5/8.8, 84.2/23.5, 86/16, 89.5/21.7, 92.2/10.6, 96/8.8, 99.5/21.7, 102.8/19.8, 106.8/18, 110.8/8.8, 117/8.8, 121.4/13.4, 126.7/18, 132/18, 137.2/18, 141.4/12.5, 144/9.7, 146.7/19.8, 150.7/23.5, 154.7/29, 158.6/30.8, 161.3/23.5, 164/19.8, 168/21.7, 170.6/23.5, 174/24, 176/22.6, 178.6/18, 180/4.2}
\addlegendentry{EMG-Amp}
\FL{frc}{104}{0/1.5, 1.5/12, 3/23.5, 5/29, 5.7/24, 7/33.6, 9.4/41.8, 10.8/27, 12.1/5, 13.7/4.2, 17/2.4, 20/2.8, 24/2.2, 28/3, 32/2.6, 36/3.3, 40/3.5, 43/5, 44.5/18, 46/2.4, 47.6/0.5, 52/1.5, 60/1.6, 70/1.4, 80/1.6, 90/1.3, 95/1.6, 96.8/2.4, 98.8/18, 101.5/19.8, 104/16, 106.8/12.5, 108.8/20, 110/8.8, 111.5/9.5, 113/10.6, 115/6, 118/5, 120/4.2, 122.7/2.4, 126/2.5, 128/2.4, 130.7/3.3, 134.7/5, 137/4.2, 140/6, 142/2.4, 144.7/2.4, 146.7/14.3, 150.7/23.5, 154.7/30.8, 157/34, 158.6/25, 160/22.5, 161.3/25, 163.3/18, 164.6/2.4, 166.6/0.5, 170/0, 173/-0.4, 177/0, 180/0.9}
\addlegendentry{Force}
\FL{mul}{52}{0/4.6, 1.7/10, 4.4/8.3, 7/6.4, 9.7/7.3, 12.4/5.5, 13.7/6.4, 15.7/15.6, 19/16.5, 21.7/21, 25.7/23.9, 29.7/27.5, 31.6/29.4, 34.3/25.7, 37.6/19.3, 40.3/17.4, 43/5.5, 58/5.5, 59/10, 61.6/11, 67/12, 71/14.7, 74.9/13.8, 78.9/5.5, 97/5.5, 100/12, 104/11, 109.4/11, 115/12, 118/5.5, 120/5.5, 122.7/19.3, 126.7/23, 130.7/30.3, 134.7/24.8, 138.7/21, 141.4/14.7, 144/5.5, 146.7/10, 152/10, 156/7.3, 158.6/10, 161.3/5.5, 180/5.5}
\FL{sin}{52}{0/4.6, 4.4/6.5, 9/6, 12.4/5.5, 15.7/13.8, 17.7/7.3, 21.7/11, 27/15.6, 31/17.4, 33.6/13.8, 37.6/10, 43/5.5, 58/5.5, 60/8.3, 67/12, 72.3/8.3, 78.9/6.4, 88/6.4, 90.8/8.3, 94/6.4, 97.5/5.5, 100/10, 106.8/11, 115/11, 118.5/6.4, 121.4/8.3, 122.7/15.6, 124.5/5, 128/16.5, 133.4/15.6, 137.4/12, 141.4/7.3, 144/5.5, 152/8.3, 160/6.4, 166/6.4, 173/8.3, 180/6.4}
\FL{emg}{52}{0/-4.6, 1/8.3, 3/19.3, 5.7/17.4, 8.4/22, 10.4/23, 12.4/1, 13.7/-1, 15.7/19.3, 19/23.9, 23/23, 27/25.7, 31/30.3, 35/28.4, 37.6/23, 40.3/23.9, 43/8.3, 47/6.4, 52/1.8, 55/1, 57.6/12, 60.2/23, 64.2/21, 68.2/23, 71/26.6, 73.5/21, 76.2/19.3, 78.9/8.3, 82.8/6.4, 86.8/15.6, 90.8/17.4, 94.8/1, 97.5/2.5, 100/12, 104/17.4, 108/13.8, 112/12, 116/8.3, 118.7/-1, 121.4/13.8, 124/23, 128/26.6, 133.4/28.4, 137.4/27.5, 140/23, 142.7/8.3, 145/6.4, 148/15.6, 152/17.4, 156/21, 160/15.6, 162.6/8.3, 165.3/1, 169.3/13.8, 173/15.6, 176/15.6, 178.6/8.3, 180/-1}
\FL{frc}{52}{0/-0.9, 1.7/0.9, 12.4/0.9, 13.7/4.6, 15.7/17.4, 19/23, 21/17.4, 23/23, 25.7/27.5, 28.3/28.4, 31/32, 33/34, 35/30, 37/17.4, 39/15.6, 40.3/17.4, 42.3/8.3, 43.6/0.9, 55/0.9, 58.9/0.9, 59.6/10, 61.6/10, 64.2/10, 69.5/11, 74.9/11, 77.5/10, 79.5/0.9, 90/0.5, 100/0.6, 110/0.5, 120/0.6, 121.4/4.6, 125.4/15.6, 128/21, 130.7/32, 132.7/23, 134.7/19.3, 137.4/21, 141.4/13.8, 143.4/0, 150/0.5, 160/0.6, 170/0.4, 175/0, 180/-1.3}
\FL{mul}{0}{0/4, 20/4, 40/4, 42.5/4.5, 45.6/18.5, 48.3/20.4, 51/16.7, 53.6/4, 70/4.5, 84/4, 85.5/15, 87.5/16.7, 90.8/12.2, 93.5/4.9, 100/5.5, 106.8/4.5, 113/5, 120/4, 130.7/5.8, 140/4.5, 150/4.5, 160/5, 162.6/5.8, 166/16.7, 169.3/10.4, 172/13, 174.6/16, 177.3/11.3, 180/2.2}
\FL{sin}{0}{0/5, 20/4.6, 40/4.6, 43/4.6, 45.6/16.7, 48.3/18.5, 51/15, 53.6/4, 70/4.2, 85/4.5, 86.2/5.8, 87.5/16.7, 89/5.8, 91.5/11.3, 93.5/4.2, 100/4.5, 106.8/6.8, 113.6/4.6, 122.7/4.6, 130.7/6.8, 141.6/4.6, 150/4.6, 160/4.6, 164/5, 166/13, 168/16.7, 170/5, 172.6/5, 176/13, 180/1.3}
\FL{emg}{0}{0/2.2, 0.4/7.6, 1.7/27.6, 4.4/29.5, 7/31.3, 9/31.3, 11/18.5, 13/2.2, 14.4/16.7, 15.7/20.4, 19/21.3, 23/22.2, 27/23, 31/24, 35/24, 39/25, 41.6/26, 43.6/4, 46/3.5, 50/5, 52/5, 55/2.2, 57.6/16.7, 59.6/24, 62.9/20.4, 65.6/24, 69.5/23, 73.5/24, 76.9/26, 78.9/2.2, 81.5/1.3, 84/2.2, 86.8/4, 92/2.2, 94.8/2.2, 97.5/15, 101.5/16.7, 104/15, 106.8/16.7, 109.4/11.3, 112/15, 114.8/9.5, 117.4/4, 120/3, 121.4/18.5, 124/23, 129.4/27.6, 133.4/24, 137.4/22.2, 141.4/16.7, 144/2.2, 146.7/4, 149.3/15, 153.3/26, 156/27.6, 158.6/20.4, 161.3/13, 164/2.2, 166/5.8, 170.6/15, 176/16.7, 178.6/7.6, 180/3}
\FL{frc}{0}{0/1.3, 13.7/0.7, 17.7/3, 21.7/5.8, 27/7.6, 32.3/8.5, 36.3/9.4, 37.6/4.9, 40.3/3, 42/4, 44.3/16.7, 47/27.6, 48.3/25.8, 49.6/18.5, 51/19.5, 53.6/7.6, 55/1.3, 70/1.3, 84/1.3, 85.5/13, 88/25.8, 90/22, 92/22, 94.8/5.8, 96/2.2, 101.5/3, 106.8/2.2, 114.8/1.3, 120/-2.4, 122.7/-0.5, 126.7/5.8, 130.7/7.6, 133.4/5.8, 137.4/-0.5, 141.4/3, 145.3/1.3, 149.3/-0.5, 154.7/-1.5, 160/-0.5, 164/2.2, 166/25.8, 168/18.5, 170.6/16.7, 172.6/22, 174.6/18.5, 177.3/9.4, 180/2.2}
\end{axis}
%================ texts
\begin{scope}[every node/.style={font=\bfseries\fs{9}}]
\node at (18pt,-29pt) {(a)};
\node at (294.5pt,-29pt) {(b)};
\node at (18pt,-253.5pt) {(c)};
\node at (297pt,-256pt) {(d)};
\end{scope}
\begin{scope}[every node/.style={font=\bfseries\fs{12}}]
\node at (149pt,-29pt) {Index};
\node at (404pt,-29pt) {Middle};
\node at (150.5pt,-250pt) {Ring-Pinky};
\end{scope}
\begin{scope}[every node/.style={font=\bfseries\fs{8},anchor=east,inner sep=0pt}]
\foreach \i in {1,...,9}{
 \node at (26.5pt,{-(104+44*(\i-1))*0.5pt}) {MU \i};
 \node at (311.5pt,{-(104+44*(\i-1))*0.5pt}) {MU \i};}
\foreach \i in {1,...,7}{
 \node at (24pt,{-(541+45.4*(\i-1))*0.5pt}) {MU \i};}
\end{scope}
\begin{scope}[every node/.style={font=\bfseries\fs{8.8},rotate=-90}]
\node at (556pt,-289pt) {Index};
\node at (556pt,-340pt) {Middle};
\node at (556pt,-399pt) {Ring-pinky};
\end{scope}
\node[font=\bfseries\fs{9}] at (430pt,-430.5pt) {Time(s)};
\node[font=\bfseries\fontsize{8}{8.5}\selectfont,rotate=90,align=center] at (294pt,-340pt) {Force\\(\%MVC)};
\end{tikzpicture}
\end{document}
